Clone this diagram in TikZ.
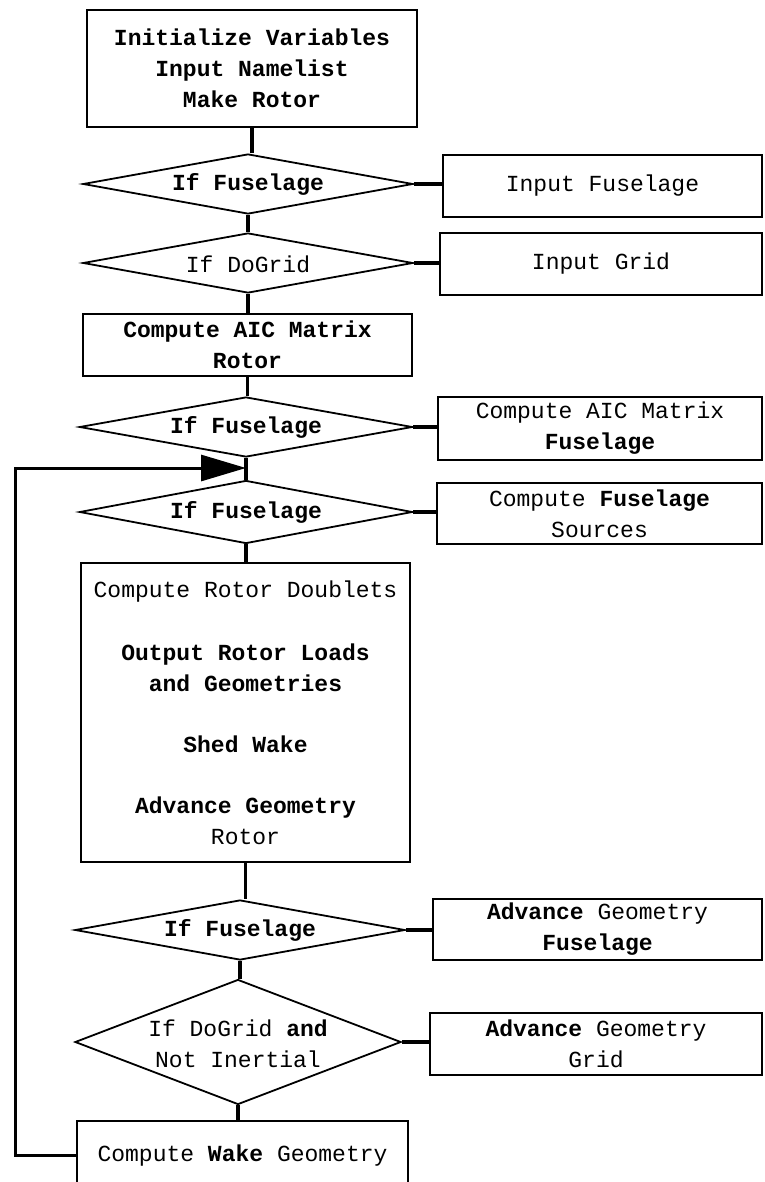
\documentclass[tikz,border=0pt]{standalone}
\usepackage{fontspec}
\setmonofont{Liberation Mono}
\usetikzlibrary{arrows.meta,shapes.geometric}
\begin{document}
\begin{tikzpicture}[x=1pt,y=-1pt,
  txt/.style={font=\ttfamily\fontsize{23}{31}\selectfont, align=center, inner sep=0pt},
  box/.style={draw, line width=1.8pt, rectangle, inner sep=0pt, txt},
  dia/.style={draw, line width=1.8pt, diamond, inner sep=0pt, minimum width=330pt, minimum height=60pt},
  conn/.style={line width=3.4pt},
]
\useasboundingbox (0,0) rectangle (764,1182);
% main column
\node[box, minimum width=330pt, minimum height=117pt] (init) at (252,68.5)
  {\bfseries Initialize Variables\\ \bfseries Input Namelist\\ \bfseries Make Rotor};
\node[dia] (d1) at (248,184) {};
\node[txt] (d1t) at (248,184) {\bfseries If Fuselage};
\node[dia] (d2) at (248,263) {};
\node[txt] (d2t) at (248,264) {If DoGrid};
\node[box, minimum width=329pt, minimum height=62pt] (aicr) at (247.5,345)
  {\bfseries Compute AIC Matrix\\ \bfseries Rotor};
\node[dia, minimum width=333pt] (d3) at (246,427) {};
\node[txt] (d3t) at (246,427) {\bfseries If Fuselage};
\node[dia, minimum width=333pt, minimum height=63pt] (d4) at (246,512) {};
\node[txt] (d4t) at (246,512) {\bfseries If Fuselage};
\node[box, minimum width=329pt, minimum height=299pt] (big) at (245.5,712.5)
  {Compute Rotor Doublets\\[32pt]
   \bfseries Output Rotor Loads\\ \bfseries and Geometries\\[30pt]
   \bfseries Shed Wake\\[30pt]
   \bfseries Advance Geometry\\ Rotor};
\node[dia] (d5) at (240,930) {};
\node[txt] (d5t) at (240,930) {\bfseries If Fuselage};
\node[dia, minimum width=326pt, minimum height=125pt] (d6) at (238,1042) {};
\node[txt] (d6t) at (238,1044) {If DoGrid \textbf{and}\\ Not Inertial};
\node[box, minimum width=331pt, minimum height=69pt] (wake) at (242.5,1155.5)
  {Compute \textbf{Wake} Geometry};
% right column
\node[box, minimum width=319pt, minimum height=62pt] (inf) at (602.5,186) {Input Fuselage};
\node[box, minimum width=322pt, minimum height=62pt] (ing) at (601,264) {Input Grid};
\node[box, minimum width=324pt, minimum height=63pt] (aicf) at (600,428.5)
  {Compute AIC Matrix\\ \bfseries Fuselage};
\node[box, minimum width=325pt, minimum height=61pt] (cfs) at (599.5,513.5)
  {Compute \textbf{Fuselage}\\ Sources};
\node[box, minimum width=329pt, minimum height=61pt] (agf) at (597.5,929.5)
  {\textbf{Advance} Geometry\\ \bfseries Fuselage};
\node[box, minimum width=332pt, minimum height=62pt] (agg) at (596,1044)
  {\textbf{Advance} Geometry\\ Grid};
% vertical connectors
\draw[conn] (init.south) -- (init.south |- d1.north);
\draw[conn] (d1.south) -- (d2.north);
\draw[conn] (d2.south) -- (d2.south |- aicr.north);
\draw[conn] (aicr.south) -- (aicr.south |- d3.north);
\draw[conn] (d3.south) -- (d4.north);
\draw[conn] (d4.south) -- (d4.south |- big.north);
\draw[conn] (big.south) -- (big.south |- d5.north);
\draw[conn] (d5.south) -- (d5.south |- d6.north);
\draw[conn] (d6.south) -- (d6.south |- wake.north);
% horizontal connectors
\draw[conn] (d1.east) -- (d1.east -| inf.west);
\draw[conn] (d2.east) -- (d2.east -| ing.west);
\draw[conn] (d3.east) -- (d3.east -| aicf.west);
\draw[conn] (d4.east) -- (d4.east -| cfs.west);
\draw[conn] (d5.east) -- (d5.east -| agf.west);
\draw[conn] (d6.east) -- (d6.east -| agg.west);
% loop back
\coordinate (jn) at (246,468);
\coordinate (lx) at (15,0);
\draw[conn, line width=3pt, -{Triangle[length=45pt,width=26pt]}]
  (wake.west) -- (wake.west -| lx) -- (lx |- jn) -- (jn);
\end{tikzpicture}
\end{document}
